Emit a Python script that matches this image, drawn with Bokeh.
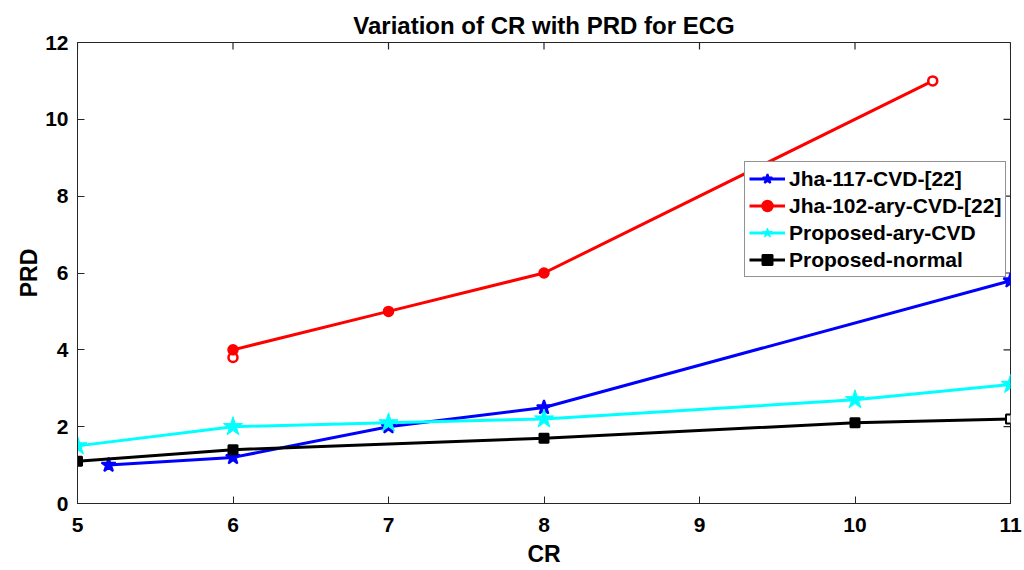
import math
from bokeh.plotting import figure
from bokeh.models import Range1d, FixedTicker, Legend, LegendItem
from bokeh.embed import file_html
from bokeh.resources import INLINE

# Data
blue_x = [5.2, 6, 7, 8, 11]
blue_y = [1.0, 1.2, 2.0, 2.5, 5.8]

red_x = [6, 6, 7, 8, 10.5]
red_y = [3.8, 4.0, 5.0, 6.0, 11.0]
red_hollow = [True, False, False, False, True]

cyan_x = [5, 6, 7, 8, 10, 11]
cyan_y = [1.5, 2.0, 2.1, 2.2, 2.7, 3.1]

black_x = [5, 6, 8, 10, 11]
black_y = [1.1, 1.4, 1.7, 2.1, 2.2]
black_hollow = [False, False, False, False, True]

x_ticks = [5, 6, 7, 8, 9, 10, 11]
y_ticks = [0, 2, 4, 6, 8, 10, 12]

FONT = "Liberation Sans"
AX = "#262626"

p = figure(width=1024, height=570, output_backend="svg", toolbar_location=None,
           x_range=Range1d(5, 11), y_range=Range1d(0, 12),
           min_border_left=77, min_border_right=14, min_border_top=42, min_border_bottom=67,
           title="Variation of CR with PRD for ECG")
p.title.align = "center"
p.title.text_font = FONT
p.title.text_font_size = "24px"
p.title.text_font_style = "bold"
p.title.text_color = "black"
p.title.offset = 0
p.title.standoff = 8

p.xgrid.visible = False
p.ygrid.visible = False
p.outline_line_color = AX
p.outline_line_width = 1
p.background_fill_color = "white"
p.border_fill_color = "white"

for ax in (p.xaxis[0], p.yaxis[0]):
    ax.major_tick_in = 7
    ax.major_tick_out = 0
    ax.minor_tick_line_color = None
    ax.axis_line_color = AX
    ax.major_tick_line_color = AX
    ax.major_label_text_font = FONT
    ax.major_label_text_font_style = "bold"
    ax.major_label_text_font_size = "21px"
    ax.major_label_text_color = "black"
    ax.axis_label_text_font = FONT
    ax.axis_label_text_font_style = "bold"
    ax.axis_label_text_font_size = "23px"
    ax.axis_label_text_color = "black"

p.xaxis[0].ticker = FixedTicker(ticks=x_ticks)
p.yaxis[0].ticker = FixedTicker(ticks=y_ticks)
p.xaxis[0].axis_label = "CR"
p.yaxis[0].axis_label = "PRD"
p.xaxis[0].major_label_standoff = 14
p.yaxis[0].major_label_standoff = 9
p.xaxis[0].axis_label_standoff = 6
p.yaxis[0].axis_label_standoff = 0

# box ticks on the top and right edges (clipped to the frame)
p.scatter(x_ticks, [y_ticks[-1]] * len(x_ticks), marker="dash", size=14,
          angle=math.pi / 2, line_color=AX, line_width=1.2)
p.scatter([x_ticks[-1]] * len(y_ticks), y_ticks, marker="dash", size=14,
          line_color=AX, line_width=1.2)

LW = 3
bl = p.line(blue_x, blue_y, line_color="blue", line_width=LW)
bs = p.scatter(blue_x, blue_y, marker="star", size=15, line_color="blue", fill_color="blue", line_width=2)

rl = p.line(red_x, red_y, line_color="red", line_width=LW)
rs = p.scatter(red_x, red_y, marker="circle", size=9, line_color="red",
               fill_color=["white" if h else "red" for h in red_hollow], line_width=2.5)

cl = p.line(cyan_x, cyan_y, line_color="cyan", line_width=LW)
cs = p.scatter(cyan_x, cyan_y, marker="star", size=20, line_color="cyan", fill_color="cyan", line_width=1)

kl = p.line(black_x, black_y, line_color="black", line_width=LW)
ks = p.scatter(black_x, black_y, marker="square", size=9, line_color="black",
               fill_color=["white" if h else "black" for h in black_hollow], line_width=2)

legend = Legend(items=[
    LegendItem(label="Jha-117-CVD-[22]", renderers=[bl, bs], index=1),
    LegendItem(label="Jha-102-ary-CVD-[22]", renderers=[rl, rs], index=1),
    LegendItem(label="Proposed-ary-CVD", renderers=[cl, cs], index=1),
    LegendItem(label="Proposed-normal", renderers=[kl, ks], index=1),
], location=(667, 226))
legend.label_text_font = FONT
legend.label_text_font_style = "bold"
legend.label_text_font_size = "21px"
legend.label_text_color = "black"
legend.border_line_color = AX
legend.border_line_width = 1
legend.padding = 4
legend.spacing = 2
legend.margin = 0
legend.glyph_width = 36
legend.glyph_height = 25
legend.label_height = 25
legend.label_standoff = 4
legend.background_fill_alpha = 1
p.add_layout(legend, "center")

open("out.html", "w").write(file_html(p, INLINE))
